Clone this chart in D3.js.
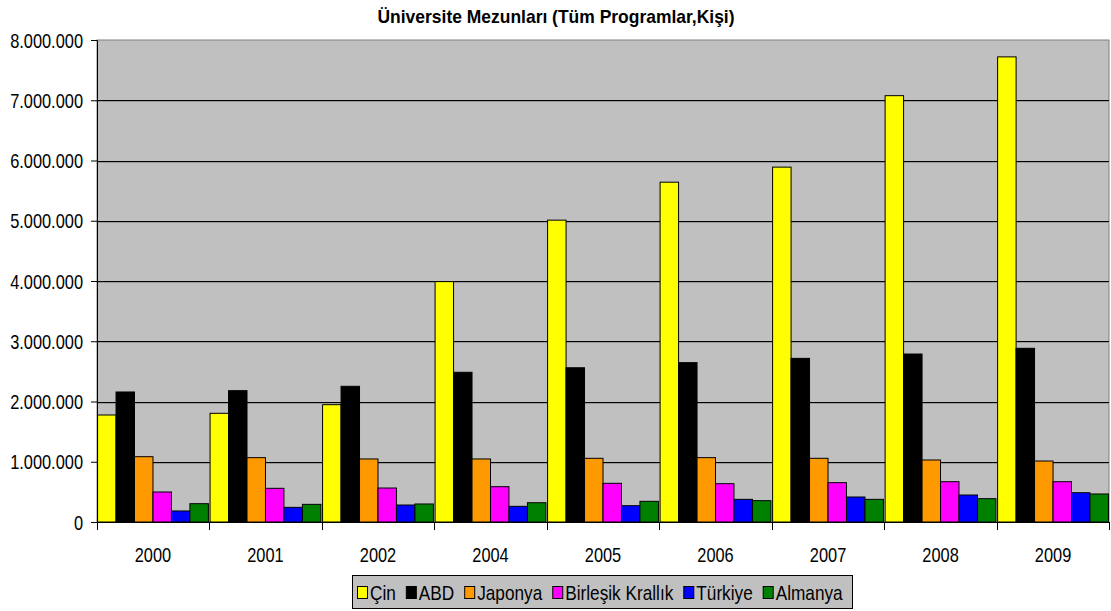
<!DOCTYPE html>
<html>
<head>
<meta charset="utf-8">
<title>Üniversite Mezunları</title>
<script src="https://d3js.org/d3.v7.min.js"></script>
<style>
  body { margin: 0; background: #fff; font-family: "Liberation Sans", Arial, sans-serif; }
  svg text { font-family: "Liberation Sans", Arial, sans-serif; fill: #000; }
</style>
</head>
<body>
<div id="chart"></div>
<script>
// data
var years = ["2000", "2001", "2002", "2004", "2005", "2006", "2007", "2008", "2009"];
var countries = ["Çin", "ABD", "Japonya", "Birleşik Krallık", "Türkiye", "Almanya"];
var colors = ["#ffff00", "#000000", "#ff9900", "#ff00ff", "#0000ff", "#008000"];
var cin      = [1776000, 1804000, 1947000, 3990000, 5010000, 5640000, 5890000, 7076000, 7720000];
var abd      = [2158000, 2180000, 2252000, 2485000, 2560000, 2645000, 2716000, 2788000, 2883000];
var japonya  = [1084000, 1068000, 1046000, 1046000, 1057000, 1068000, 1057000, 1029000, 1012000];
var birlesik = [498000, 559000, 564000, 586000, 642000, 636000, 653000, 669000, 669000];
var turkiye  = [183000, 243000, 282000, 260000, 271000, 376000, 415000, 448000, 486000];
var almanya  = [304000, 293000, 299000, 320000, 343000, 354000, 376000, 387000, 465000];
var yTicks = [0, 1000000, 2000000, 3000000, 4000000, 5000000, 6000000, 7000000, 8000000];

var series = [cin, abd, japonya, birlesik, turkiye, almanya];

var W = 1111, H = 611;
var m = { left: 97, right: 2, top: 40, bottom: 89 };
var FS = 20, SX = 0.82; // tall, narrow text like the original

var svg = d3.select("#chart").append("svg")
  .attr("width", W).attr("height", H);

var x0 = d3.scaleBand().domain(years).range([m.left, W - m.right]).paddingInner(0.015).paddingOuter(0.005);
var x1 = d3.scaleBand().domain(d3.range(countries.length)).range([0, x0.bandwidth()]);
var y = d3.scaleLinear().domain([0, 8000000]).range([H - m.bottom, m.top]);

var fmt = function(v) { return d3.format(",")(v).replace(/,/g, "."); };

// narrow text helper
function label(parent, x, yy, txt, anchor, fs) {
  return parent.append("text")
    .attr("transform", "translate(" + x + "," + yy + ") scale(" + SX + ",1)")
    .attr("text-anchor", anchor || "start")
    .style("font-size", (fs || FS) + "px")
    .text(txt);
}

// plot background
svg.append("rect")
  .attr("x", m.left).attr("y", m.top)
  .attr("width", W - m.right - m.left).attr("height", H - m.bottom - m.top)
  .attr("fill", "#c0c0c0").attr("stroke", "#808080");

// gridlines (black with a faint shadow)
var grid = svg.append("g").selectAll("g")
  .data(yTicks.slice(1, -1))
  .enter().append("g");
grid.append("line")
  .attr("x1", m.left).attr("x2", W - m.right)
  .attr("y1", function(d) { return Math.round(y(d)) + 1.5; })
  .attr("y2", function(d) { return Math.round(y(d)) + 1.5; })
  .attr("stroke", "#9a9a9a");
grid.append("line")
  .attr("x1", m.left).attr("x2", W - m.right)
  .attr("y1", function(d) { return Math.round(y(d)) + 0.5; })
  .attr("y2", function(d) { return Math.round(y(d)) + 0.5; })
  .attr("stroke", "#000");

// bars
var groups = svg.append("g").selectAll("g")
  .data(years)
  .enter().append("g")
  .attr("transform", function(d) { return "translate(" + x0(d) + ",0)"; });

groups.selectAll("rect")
  .data(function(d, i) { return series.map(function(s, j) { return { k: j, v: s[i] }; }); })
  .enter().append("rect")
  .attr("x", function(d) { return x1(d.k); })
  .attr("width", x1.bandwidth())
  .attr("y", function(d) { return y(d.v); })
  .attr("height", function(d) { return y(0) - y(d.v); })
  .attr("fill", function(d) { return colors[d.k]; })
  .attr("stroke", "#000").attr("stroke-width", 1);

// y axis
var yAxis = svg.append("g")
  .attr("transform", "translate(" + m.left + ",0)")
  .call(d3.axisLeft(y).tickValues(yTicks).tickFormat(fmt).tickSize(6).tickPadding(7));
yAxis.attr("font-size", null).attr("font-family", null);
yAxis.select(".domain").attr("stroke", "#000");
yAxis.selectAll(".tick text")
  .attr("x", null).attr("dy", null)
  .attr("transform", "translate(-14,7) scale(" + SX + ",1)")
  .style("font-size", FS + "px");

// x axis: ticks at category boundaries
var xa = svg.append("g");
xa.append("line")
  .attr("x1", m.left).attr("x2", W - m.right)
  .attr("y1", y(0) + 0.5).attr("y2", y(0) + 0.5)
  .attr("stroke", "#000");
var bounds = [m.left].concat(years.map(function(d) { return x0(d) + x0.bandwidth() + x0.step() * x0.paddingInner() / 2; }));
bounds[bounds.length - 1] = W - m.right;
xa.selectAll("line.tk")
  .data(bounds)
  .enter().append("line").attr("class", "tk")
  .attr("x1", function(d) { return Math.round(d) + 0.5; })
  .attr("x2", function(d) { return Math.round(d) + 0.5; })
  .attr("y1", y(0)).attr("y2", y(0) + 8)
  .attr("stroke", "#000");
years.forEach(function(d) {
  label(xa, x0(d) + x0.bandwidth() / 2, 562, d, "middle");
});

// title
svg.append("text")
  .attr("x", 556).attr("y", 23)
  .attr("text-anchor", "middle")
  .style("font-size", "19px").style("font-weight", "bold")
  .attr("textLength", 357).attr("lengthAdjust", "spacingAndGlyphs")
  .text("Üniversite Mezunları (Tüm Programlar,Kişi)");

// legend
var lg = svg.append("g");
lg.append("rect")
  .attr("x", 352.5).attr("y", 575.5).attr("width", 500).attr("height", 33)
  .attr("fill", "#c0c0c0").attr("stroke", "#000");
var cx = 357;
countries.forEach(function(c, i) {
  lg.append("rect")
    .attr("x", cx + 0.5).attr("y", 586.5).attr("width", 10).attr("height", 12)
    .attr("fill", colors[i]).attr("stroke", "#000");
  var t = label(lg, cx + 13, 600, c, "start", 21);
  cx += 13 + t.node().getComputedTextLength() * SX + 10;
});
</script>
</body>
</html>
